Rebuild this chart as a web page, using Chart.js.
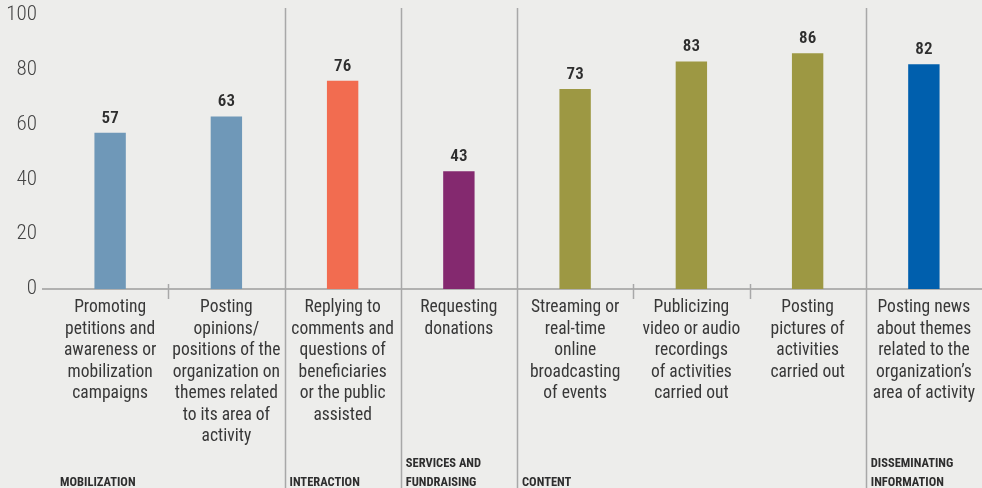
<!DOCTYPE html>
<html>
<head>
<meta charset="utf-8">
<script src="https://cdn.jsdelivr.net/npm/chart.js@4.4.1/dist/chart.umd.min.js"></script>
<style>
  html, body { margin: 0; padding: 0; background: #ededeb; }
  #wrap { width: 982px; height: 488px; position: relative; }
</style>
</head>
<body>
<div id="wrap"><canvas id="activityChart"></canvas></div>
<script>
var categories = [
  ['Promoting', 'petitions and', 'awareness or', 'mobilization', 'campaigns'],
  ['Posting', 'opinions/', 'positions of the', 'organization on', 'themes related', 'to its area of', 'activity'],
  ['Replying to', 'comments and', 'questions of', 'beneficiaries', 'or the public', 'assisted'],
  ['Requesting', 'donations'],
  ['Streaming or', 'real-time', 'online', 'broadcasting', 'of events'],
  ['Publicizing', 'video or audio', 'recordings', 'of activities', 'carried out'],
  ['Posting', 'pictures of', 'activities', 'carried out'],
  ['Posting news', 'about themes', 'related to the', 'organization\u2019s', 'area of activity']
];
var values = [57, 63, 76, 43, 73, 83, 86, 82];
var barColors = ['#6f98b8', '#6f98b8', '#f26c50', '#84296f', '#9d9843', '#9d9843', '#9d9843', '#005fad'];
var groupNames = [['MOBILIZATION'], ['INTERACTION'], ['SERVICES AND', 'FUNDRAISING'], ['CONTENT'], ['DISSEMINATING', 'INFORMATION']];
var groupStarts = [0, 2, 3, 4, 7];
var yTicks = [0, 20, 40, 60, 80, 100];

var FONT = '"Roboto Condensed", Roboto, sans-serif';

// separators, baseline, value labels and group captions
var groupPlugin = {
  id: 'groups',
  beforeDatasetsDraw: function(chart) {
    var ctx = chart.ctx;
    var x = chart.scales.x, y = chart.scales.y;
    var zeroY = y.getPixelForValue(0);
    function edge(i) {
      return (x.getPixelForValue(i - 1) + x.getPixelForValue(i)) / 2;
    }
    ctx.save();
    ctx.strokeStyle = '#9c9c9c';
    ctx.lineWidth = 1.5;
    ctx.beginPath();
    ctx.moveTo(42, zeroY);
    ctx.lineTo(chart.chartArea.right, zeroY);
    ctx.stroke();
    ctx.strokeStyle = '#a8a8a8';
    for (var i = 1; i < categories.length; i++) {
      var ex = Math.round(edge(i)) + 0.5;
      ctx.beginPath();
      if (groupStarts.indexOf(i) >= 0) {
        ctx.moveTo(ex, 8);
        ctx.lineTo(ex, chart.height);
      } else {
        ctx.moveTo(ex, zeroY - 5);
        ctx.lineTo(ex, zeroY + 10);
      }
      ctx.stroke();
    }
    ctx.restore();
  },
  afterDatasetsDraw: function(chart) {
    var ctx = chart.ctx;
    var x = chart.scales.x;
    var bars = chart.getDatasetMeta(0).data;
    ctx.save();
    ctx.fillStyle = '#2e2e2e';
    ctx.font = '600 17px ' + FONT;
    ctx.textAlign = 'center';
    ctx.textBaseline = 'bottom';
    bars.forEach(function(bar, i) {
      ctx.fillText(values[i], bar.x, bar.y - 6);
    });
    ctx.font = 'bold 12.5px ' + FONT;
    ctx.textAlign = 'left';
    ctx.textBaseline = 'alphabetic';
    groupNames.forEach(function(lines, g) {
      var s = groupStarts[g];
      var gx = s === 0 ? chart.chartArea.left + 8 :
        (x.getPixelForValue(s - 1) + x.getPixelForValue(s)) / 2 + 5;
      for (var k = 0; k < lines.length; k++) {
        var ly = chart.height - 2 - (lines.length - 1 - k) * 19;
        ctx.fillText(lines[k], gx, ly);
      }
    });
    ctx.restore();
  }
};

new Chart(document.getElementById('activityChart'), {
  type: 'bar',
  data: {
    labels: categories,
    datasets: [{
      data: values,
      backgroundColor: barColors,
      barPercentage: 0.27,
      categoryPercentage: 1
    }]
  },
  options: {
    responsive: true,
    maintainAspectRatio: false,
    animation: false,
    layout: { padding: { top: 15, left: 0, right: 0, bottom: 0 } },
    plugins: { legend: { display: false }, tooltip: { enabled: false } },
    scales: {
      x: {
        grid: { display: false },
        border: { display: false },
        afterFit: function(scale) {
          scale.height = 199;
          scale.paddingLeft = 0;
          scale.paddingRight = 0;
        },
        ticks: {
          autoSkip: false,
          maxRotation: 0,
          padding: 0,
          color: '#383838',
          font: { family: FONT, size: 17.5, lineHeight: 1.23 }
        }
      },
      y: {
        min: 0,
        max: 100,
        grid: { display: false, drawTicks: false },
        border: { display: false },
        afterFit: function(scale) {
          scale.width = 52;
          scale.paddingTop = 0;
          scale.paddingBottom = 0;
        },
        afterBuildTicks: function(scale) {
          scale.ticks = yTicks.map(function(v) { return { value: v }; });
        },
        ticks: {
          padding: 15,
          color: '#444',
          font: { family: FONT, size: 21, weight: 300 }
        }
      }
    }
  },
  plugins: [groupPlugin]
});
</script>
</body>
</html>
